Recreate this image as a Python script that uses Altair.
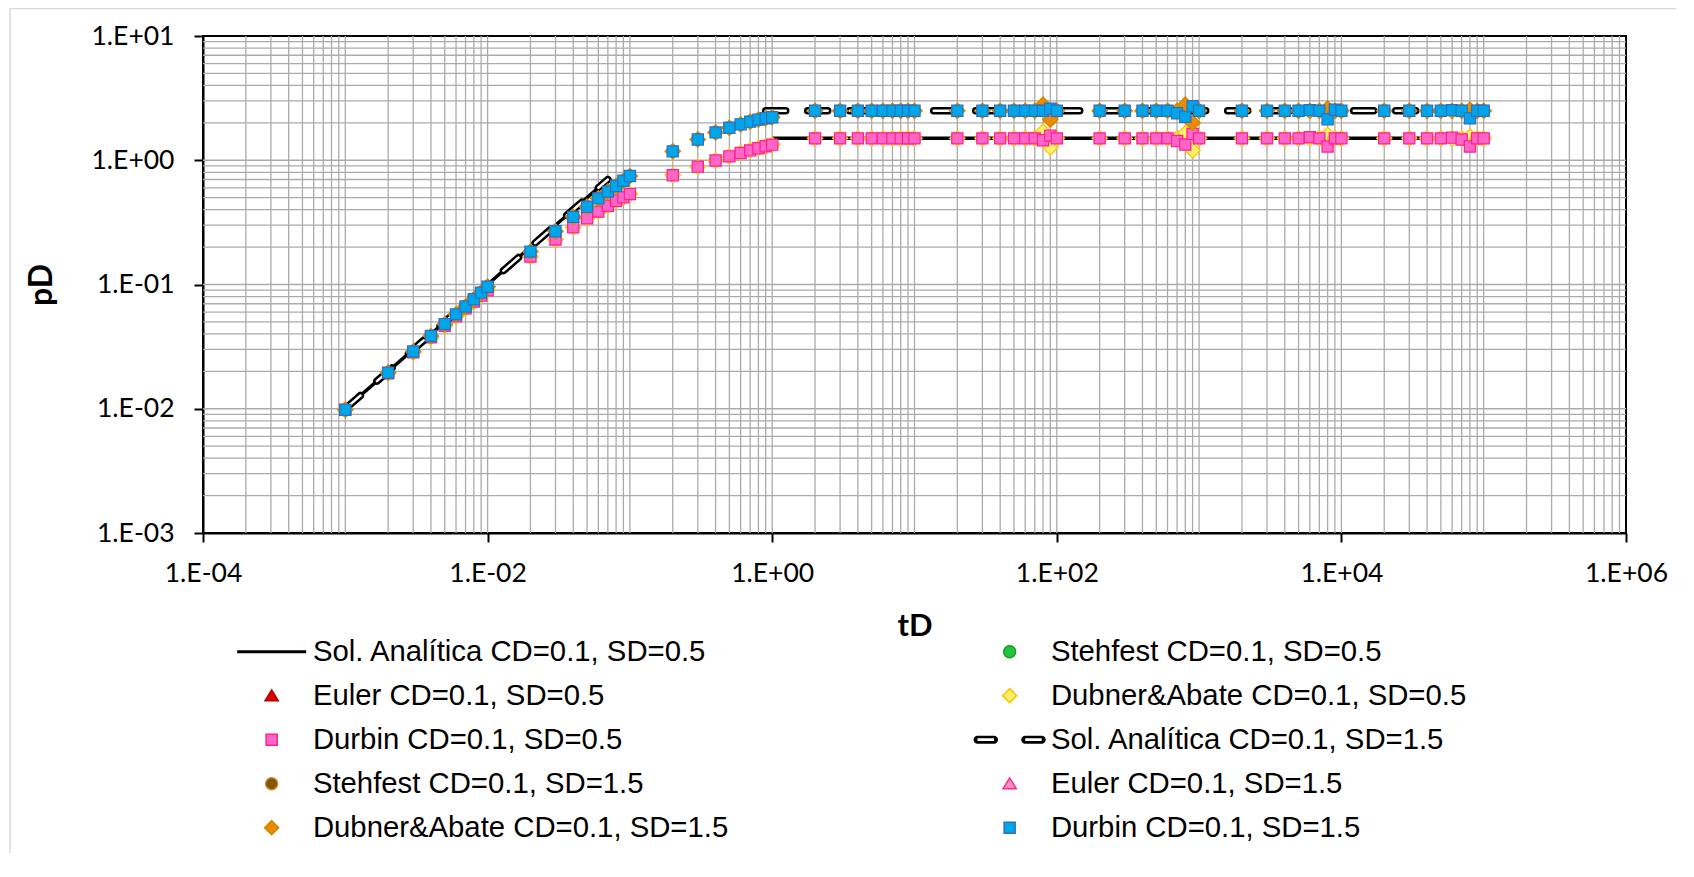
import altair as alt
import pandas as pd

# ---------------- data ----------------
t_vals = [
    0.001, 0.002, 0.003, 0.004, 0.005, 0.006, 0.007, 0.008, 0.009,
    0.01, 0.02, 0.03, 0.04, 0.05, 0.06, 0.07, 0.08, 0.09,
    0.1, 0.2, 0.3, 0.4, 0.5, 0.6, 0.7, 0.8, 0.9,
    1, 2, 3, 4, 5, 6, 7, 8, 9,
    10, 20, 30, 40, 50, 60, 70, 80, 90,
    100, 200, 300, 400, 500, 600, 700, 800, 900,
    1000, 2000, 3000, 4000, 5000, 6000, 7000, 8000, 9000,
    10000, 20000, 30000, 40000, 50000, 60000, 70000, 80000, 90000,
    100000]

durbin_sd05 = [
    0.00985, 0.0193, 0.0285, 0.0376, 0.0466, 0.0555, 0.0643, 0.073, 0.0815,
    0.090, 0.168, 0.230, 0.289, 0.341, 0.386, 0.430, 0.472, 0.503,
    0.534, 0.757, 0.888, 0.995, 1.075, 1.145, 1.20, 1.25, 1.295,
    1.335, 1.5, 1.5, 1.5, 1.5, 1.5, 1.5, 1.5, 1.5,
    1.5, 1.5, 1.5, 1.5, 1.5, 1.5, 1.5, 1.45, 1.58,
    1.5, 1.5, 1.5, 1.5, 1.5, 1.5, 1.43, 1.34, 1.63,
    1.5, 1.5, 1.5, 1.5, 1.5, 1.53, 1.5, 1.29, 1.5,
    1.5, 1.5, 1.5, 1.5, 1.5, 1.52, 1.47, 1.29, 1.5,
    1.5]

durbin_sd15 = [
    0.0098, 0.0195, 0.0289, 0.0385, 0.0480, 0.0575, 0.0665, 0.0760, 0.0860,
    0.096, 0.184, 0.268, 0.350, 0.423, 0.493, 0.559, 0.621, 0.684,
    0.746, 1.18, 1.47, 1.675, 1.825, 1.945, 2.045, 2.125, 2.18,
    2.22, 2.5, 2.5, 2.5, 2.5, 2.5, 2.5, 2.5, 2.5,
    2.5, 2.5, 2.5, 2.5, 2.5, 2.5, 2.5, 2.5, 2.6,
    2.5, 2.5, 2.5, 2.5, 2.5, 2.5, 2.39, 2.24, 2.72,
    2.5, 2.5, 2.5, 2.5, 2.5, 2.53, 2.5, 2.14, 2.55,
    2.5, 2.5, 2.5, 2.5, 2.5, 2.53, 2.5, 2.18, 2.5,
    2.5]

dubner_sd05 = [
    0.00985, 0.0193, 0.0285, 0.0376, 0.0466, 0.0555, 0.0643, 0.073, 0.0815,
    0.090, 0.168, 0.230, 0.289, 0.341, 0.386, 0.430, 0.472, 0.503,
    0.534, 0.757, 0.888, 0.995, 1.075, 1.145, 1.20, 1.25, 1.295,
    1.335, 1.5, 1.5, 1.5, 1.5, 1.5, 1.5, 1.5, 1.5,
    1.5, 1.5, 1.5, 1.5, 1.5, 1.5, 1.5, 1.70, 1.27,
    1.5, 1.5, 1.5, 1.5, 1.5, 1.5, 1.5, 1.65, 1.20,
    1.5, 1.5, 1.5, 1.5, 1.5, 1.5, 1.5, 1.60, 1.5,
    1.5, 1.5, 1.5, 1.5, 1.5, 1.5, 1.5, 1.55, 1.5,
    1.5]

dubner_sd15 = [
    0.0098, 0.0195, 0.0289, 0.0385, 0.0480, 0.0575, 0.0665, 0.0760, 0.0860,
    0.096, 0.184, 0.268, 0.350, 0.423, 0.493, 0.559, 0.621, 0.684,
    0.746, 1.18, 1.47, 1.675, 1.825, 1.945, 2.045, 2.125, 2.18,
    2.22, 2.5, 2.5, 2.5, 2.5, 2.5, 2.5, 2.5, 2.5,
    2.5, 2.5, 2.5, 2.5, 2.5, 2.5, 2.5, 2.80, 2.12,
    2.5, 2.5, 2.5, 2.5, 2.5, 2.5, 2.5, 2.80, 2.00,
    2.5, 2.5, 2.5, 2.5, 2.5, 2.5, 2.5, 2.60, 2.5,
    2.5, 2.5, 2.5, 2.5, 2.5, 2.5, 2.5, 2.55, 2.5,
    2.5]

# Euler and Stehfest points lie under the Durbin squares
euler_sd05 = list(durbin_sd05)
stehfest_sd05 = list(durbin_sd05)
euler_sd15 = list(durbin_sd15)
stehfest_sd15 = list(durbin_sd15)

# analytical solution: early-time segment and late-time segment
sol_early_t = [0.001, 0.002, 0.003, 0.004, 0.005, 0.006, 0.007, 0.008, 0.009,
               0.01, 0.02, 0.03, 0.04, 0.05, 0.06, 0.07]
sol_early_pD = [0.01, 0.02, 0.03, 0.04, 0.05, 0.06, 0.07, 0.08, 0.09,
                0.1, 0.2, 0.3, 0.4, 0.5, 0.6, 0.7]
sol05_late_t = [1, 100000]
sol05_late_pD = [1.5, 1.5]
sol15_late_t = [0.9, 100000]
sol15_late_pD = [2.5, 2.5]

x_ticks = [1e-4, 1e-2, 1, 1e2, 1e4, 1e6]
y_ticks = [1e-3, 1e-2, 1e-1, 1, 10]
x_grid = [m * 10.0 ** k for k in range(-4, 6) for m in range(1, 10)][1:]
y_grid = [m * 10.0 ** k for k in range(-3, 1) for m in range(1, 10)][1:]

legend_order = [
    "Sol. Analítica CD=0.1, SD=0.5",
    "Euler CD=0.1, SD=0.5",
    "Durbin CD=0.1, SD=0.5",
    "Stehfest CD=0.1, SD=1.5",
    "Dubner&Abate CD=0.1, SD=1.5",
    "Stehfest CD=0.1, SD=0.5",
    "Dubner&Abate CD=0.1, SD=0.5",
    "Sol. Analítica CD=0.1, SD=1.5",
    "Euler CD=0.1, SD=1.5",
    "Durbin CD=0.1, SD=1.5",
]

# ---------------- styles ----------------
SQ = "M-6.1,0M-0.92,-0.92H0.92V0.92H-0.92Z"
TRI = "M-6.1,0M0,-0.95L1.1,0.85H-1.1Z"
CIR = "M-6.1,0M1,0A1,1 0 1,1 -1,0A1,1 0 1,1 1,0Z"
DIA = "M-6.1,0M0,-1.17L1.17,0L0,1.17L-1.17,0Z"
LINE = "M-6.1,0M-5.75,-0.25H5.75V0.25H-5.75Z"
DASH2 = ("M-6.1,0"
         "M-5.35,-0.67H-2.6A0.67,0.67 0 0 1 -2.6,0.67H-5.35A0.67,0.67 0 0 1 -5.35,-0.67Z"
         "M-5.35,-0.22V0.22H-2.6V-0.22Z"
         "M2.6,-0.67H5.35A0.67,0.67 0 0 1 5.35,0.67H2.6A0.67,0.67 0 0 1 2.6,-0.67Z"
         "M2.6,-0.22V0.22H5.35V-0.22Z")

leg_shapes = [LINE, TRI, SQ, CIR, DIA, CIR, DIA, DASH2, TRI, SQ]
leg_fills = ["black", "#E00000", "#FF66C8", "#7A5C00", "#EE8A00",
             "#22C43A", "#FFF06A", "black", "#FF8FCB", "#00A6EA"]
leg_strokes = ["rgba(0,0,0,0)", "#B00000", "#FF1F8E", "#E07A2E", "#C98B00",
               "#169A2E", "#FFC000", "rgba(0,0,0,0)", "#FF2A8A", "#2E6FBE"]

W, H = 1423, 497

lab = ("'1.E' + (datum.value >= 1 ? '+' : '-') + "
       "(abs(round(log(datum.value)/LN10)) < 10 ? '0' : '') + "
       "abs(round(log(datum.value)/LN10))")

xscale = alt.Scale(type="log", domain=[1e-4, 1e6], nice=False)
yscale = alt.Scale(type="log", domain=[1e-3, 10], nice=False)

xaxis = alt.Axis(values=x_ticks, labelExpr=lab, grid=False, tickSize=9, tickWidth=2,
                 tickColor="black", domainColor="black", domainWidth=2,
                 labelFont="Lato", labelFontSize=26.5, labelColor="black",
                 labelPadding=18, labelFlush=False, labelOverlap=False,
                 title="tD", titleFont="Lato", titleFontSize=31, titleFontWeight="bold",
                 titleColor="black", titleX=W / 2, titleY=102,
                 titleBaseline="alphabetic", titleAlign="center")
yaxis = alt.Axis(values=y_ticks, labelExpr=lab, grid=False, tickSize=9, tickWidth=2,
                 tickColor="black", domainColor="black", domainWidth=2,
                 labelFont="Lato", labelFontSize=26.5, labelColor="black",
                 labelPadding=20, labelOverlap=False,
                 title="pD", titleFont="Lato", titleFontSize=32, titleFontWeight="bold",
                 titleColor="black", titleAngle=270, titleX=-152, titleY=H / 2,
                 titleBaseline="alphabetic", titleAlign="center")

X = alt.X("t:Q", scale=xscale, axis=xaxis)
Y = alt.Y("pD:Q", scale=yscale, axis=yaxis)

one = alt.Data(values=[{}])

border = alt.Chart(one).mark_rect(fillOpacity=0, stroke="#D9D9D9", strokeWidth=1.5).encode(
    x=alt.value(-193), x2=alt.value(1500), y=alt.value(-27.5), y2=alt.value(900))

xgrid = alt.Chart(pd.DataFrame({"t": x_grid})).mark_rule(
    color="#ABABAB", strokeWidth=1.3).encode(x=X)
ygrid = alt.Chart(pd.DataFrame({"pD": y_grid})).mark_rule(
    color="#ABABAB", strokeWidth=1.3).encode(y=Y)


def line_df(late_t, late_p):
    return pd.DataFrame({
        "t": sol_early_t + late_t,
        "pD": sol_early_pD + late_p,
        "seg": ["a"] * len(sol_early_t) + ["b"] * len(late_t),
    })


sol05 = alt.Chart(line_df(sol05_late_t, sol05_late_pD)).mark_line(
    color="black", strokeWidth=3.5).encode(x=X, y=Y, detail="seg:N")
sol15_out = alt.Chart(line_df(sol15_late_t, sol15_late_pD)).mark_line(
    color="black", strokeWidth=7.5, strokeDash=[20, 22], strokeCap="round").encode(
    x=X, y=Y, detail="seg:N")
sol15_in = alt.Chart(line_df(sol15_late_t, sol15_late_pD)).mark_line(
    color="white", strokeWidth=2.5, strokeDash=[20, 22], strokeCap="round").encode(
    x=X, y=Y, detail="seg:N")


def pts(values, shape, size, fill, stroke):
    return alt.Chart(pd.DataFrame({"t": t_vals, "pD": values})).mark_point(
        shape=shape, size=size, filled=True, fill=fill, stroke=stroke,
        strokeWidth=1.2, opacity=1).encode(x=X, y=Y)


ste05 = pts(stehfest_sd05, "circle", 70, "#22C43A", "#169A2E")
eul05 = pts(euler_sd05, "triangle-up", 70, "#E00000", "#B00000")
dub05 = pts(dubner_sd05, "diamond", 240, "#FFF06A", "#FFC000")
dur05 = pts(durbin_sd05, "square", 125, "#FF66C8", "#FF1F8E")
ste15 = pts(stehfest_sd15, "circle", 70, "#7A5C00", "#E07A2E")
eul15 = pts(euler_sd15, "triangle-up", 70, "#FF8FCB", "#FF2A8A")
dub15 = pts(dubner_sd15, "diamond", 240, "#EE8A00", "#C98B00")
dur15 = pts(durbin_sd15, "square", 125, "#00A6EA", "#2E6FBE")

leg = alt.Legend(orient="none", legendX=31, legendY=601, direction="vertical",
                 columns=2, columnPadding=241, rowPadding=14, padding=0,
                 symbolSize=144, symbolStrokeWidth=1.5, symbolOffset=23,
                 labelOffset=26.6, labelFont="Liberation Sans", labelFontSize=29.3,
                 labelColor="black", labelLimit=800)

legend_layer = alt.Chart(
    alt.Data(values=[{"t": 1, "pD": 1, "series": legend_order[0]}])
).transform_filter("datum.t < 0").mark_point(filled=True, opacity=1).encode(
    x=X, y=Y,
    shape=alt.Shape("series:N", scale=alt.Scale(domain=legend_order, range=leg_shapes),
                    legend=leg, title=None),
    fill=alt.Fill("series:N", scale=alt.Scale(domain=legend_order, range=leg_fills),
                  legend=leg, title=None),
    stroke=alt.Stroke("series:N", scale=alt.Scale(domain=legend_order, range=leg_strokes),
                      legend=leg, title=None),
)

chart = alt.layer(
    border, xgrid, ygrid,
    sol05, ste05, eul05, dub05, dur05,
    sol15_out, sol15_in, ste15, eul15, dub15, dur15,
    legend_layer,
).properties(
    width=W, height=H,
    padding={"left": 195, "top": 28, "right": 50, "bottom": 320},
    autosize=alt.AutoSizeParams(type="none"),
    background="white",
).configure_view(stroke="black", strokeWidth=2)

chart.save("out.html", embed_options={"renderer": "svg", "actions": False})
